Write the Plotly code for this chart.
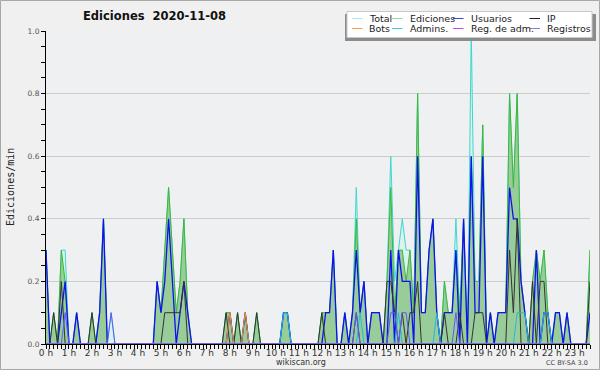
import plotly.graph_objects as go

# 10-minute bins of 2020-11-08, 00:00 .. 23:40 (hours)
hours = [i / 6 for i in range(143)]

# values in edits/min, one row = 2 hours (12 bins)
total = [
    0.3, 0, 0.1, 0, 0.3, 0.3, 0, 0, 0.1, 0, 0, 0,
    0.1, 0, 0.1, 0.4, 0, 0.1, 0, 0, 0, 0, 0, 0,
    0, 0, 0, 0, 0, 0.2, 0.1, 0.3, 0.5, 0.3, 0.1, 0.2,
    0.4, 0.1, 0, 0, 0, 0, 0, 0, 0, 0, 0, 0.1,
    0.1, 0, 0.1, 0, 0.1, 0, 0, 0.1, 0, 0, 0, 0,
    0, 0, 0.1, 0.1, 0, 0, 0, 0, 0, 0, 0, 0,
    0.1, 0.1, 0.1, 0.3, 0, 0, 0.1, 0, 0.1, 0.5, 0.1, 0.2,
    0, 0.1, 0.1, 0.1, 0, 0.2, 0.6, 0.2, 0.3, 0.4, 0.3, 0.3,
    0.1, 0.8, 0.1, 0.1, 0.3, 0.4, 0.1, 0, 0.2, 0.1, 0.1, 0.4,
    0.1, 0.4, 0, 1.0, 0.2, 0.2, 0.7, 0, 0.1, 0, 0.1, 0.1,
    0.1, 0.8, 0.5, 0.8, 0.2, 0.1, 0, 0.2, 0.3, 0.2, 0.3, 0.1,
    0, 0.1, 0.1, 0, 0.1, 0, 0, 0, 0, 0, 0.3,
]
ediciones = [
    0.3, 0, 0.1, 0, 0.3, 0.2, 0, 0, 0.1, 0, 0, 0,
    0.1, 0, 0.1, 0.4, 0, 0, 0, 0, 0, 0, 0, 0,
    0, 0, 0, 0, 0, 0.2, 0.1, 0.3, 0.5, 0.3, 0.1, 0.2,
    0.4, 0.1, 0, 0, 0, 0, 0, 0, 0, 0, 0, 0.1,
    0.1, 0, 0.1, 0, 0.1, 0, 0, 0.1, 0, 0, 0, 0,
    0, 0, 0.1, 0.1, 0, 0, 0, 0, 0, 0, 0, 0,
    0.1, 0.1, 0.1, 0.3, 0, 0, 0.1, 0, 0.1, 0.4, 0.1, 0.2,
    0, 0.1, 0.1, 0.1, 0, 0.2, 0.5, 0.1, 0.3, 0.3, 0.2, 0.3,
    0.1, 0.8, 0.1, 0.1, 0.3, 0.4, 0.1, 0, 0.2, 0.1, 0.1, 0.3,
    0.1, 0.4, 0, 0.6, 0.2, 0.2, 0.7, 0, 0.1, 0, 0.1, 0.1,
    0.1, 0.8, 0.5, 0.8, 0.2, 0.1, 0, 0.2, 0.3, 0.2, 0.3, 0.1,
    0, 0.1, 0.1, 0, 0.1, 0, 0, 0, 0, 0, 0.3,
]
usuarios = [
    0.3, 0, 0, 0, 0.1, 0.2, 0, 0, 0.1, 0, 0, 0,
    0, 0, 0.1, 0.4, 0, 0, 0, 0, 0, 0, 0, 0,
    0, 0, 0, 0, 0, 0.2, 0.1, 0.2, 0.4, 0.2, 0, 0.1,
    0.2, 0.1, 0, 0, 0, 0, 0, 0, 0, 0, 0, 0,
    0.1, 0, 0, 0, 0.1, 0, 0, 0, 0, 0, 0, 0,
    0, 0, 0.1, 0.1, 0, 0, 0, 0, 0, 0, 0, 0,
    0, 0.1, 0.1, 0.3, 0, 0, 0.1, 0, 0.1, 0.3, 0.1, 0.2,
    0, 0.1, 0.1, 0.1, 0, 0, 0.3, 0, 0.3, 0.2, 0.2, 0.2,
    0, 0.6, 0.1, 0.1, 0.3, 0.4, 0.1, 0, 0.1, 0.1, 0.1, 0.3,
    0, 0.4, 0, 0.6, 0.1, 0.1, 0.6, 0, 0.1, 0, 0.1, 0.1,
    0.1, 0.5, 0.4, 0.4, 0.2, 0.1, 0, 0, 0.3, 0, 0.1, 0.1,
    0, 0.1, 0.1, 0, 0.1, 0, 0, 0, 0, 0, 0.1,
]
ip = [
    0, 0, 0.1, 0, 0.2, 0, 0, 0, 0, 0, 0, 0,
    0.1, 0, 0, 0, 0, 0, 0, 0, 0, 0, 0, 0,
    0, 0, 0, 0, 0, 0, 0, 0.1, 0.1, 0.1, 0.1, 0.1,
    0.2, 0, 0, 0, 0, 0, 0, 0, 0, 0, 0, 0.1,
    0, 0, 0.1, 0, 0, 0, 0, 0.1, 0, 0, 0, 0,
    0, 0, 0, 0, 0, 0, 0, 0, 0, 0, 0, 0,
    0.1, 0, 0, 0, 0, 0, 0, 0, 0, 0.1, 0, 0,
    0, 0, 0, 0, 0, 0.2, 0.2, 0.1, 0, 0.1, 0, 0.1,
    0.1, 0.2, 0, 0, 0, 0, 0, 0, 0.1, 0, 0, 0,
    0.1, 0, 0, 0, 0.1, 0.1, 0.1, 0, 0, 0, 0, 0,
    0, 0.3, 0.1, 0.4, 0, 0, 0, 0.2, 0, 0.2, 0.2, 0,
    0, 0, 0, 0, 0, 0, 0, 0, 0, 0, 0.2,
]
bots = [
    0, 0, 0, 0, 0, 0, 0, 0, 0, 0, 0, 0,
    0, 0, 0, 0, 0, 0, 0, 0, 0, 0, 0, 0,
    0, 0, 0, 0, 0, 0, 0, 0, 0, 0, 0, 0,
    0, 0, 0, 0, 0, 0, 0, 0, 0, 0, 0, 0,
    0.1, 0, 0, 0, 0.1, 0, 0, 0, 0, 0, 0, 0,
    0, 0, 0, 0, 0, 0, 0, 0, 0, 0, 0, 0,
    0, 0, 0, 0, 0, 0, 0, 0, 0, 0, 0, 0,
    0, 0, 0, 0, 0, 0, 0, 0, 0, 0, 0, 0,
    0, 0, 0, 0, 0, 0, 0, 0, 0, 0, 0, 0,
    0, 0, 0, 0, 0, 0, 0, 0, 0, 0, 0, 0,
    0, 0, 0, 0, 0, 0, 0, 0, 0, 0, 0, 0,
    0, 0, 0, 0, 0, 0, 0, 0, 0, 0, 0,
]
admins = [
    0, 0, 0, 0, 0, 0, 0, 0, 0, 0, 0, 0,
    0, 0, 0, 0, 0, 0, 0, 0, 0, 0, 0, 0,
    0, 0, 0, 0, 0, 0, 0, 0, 0, 0, 0, 0,
    0, 0, 0, 0, 0, 0, 0, 0, 0, 0, 0, 0,
    0, 0, 0, 0, 0, 0, 0, 0, 0, 0, 0, 0,
    0, 0, 0.1, 0.1, 0, 0, 0, 0, 0, 0, 0, 0,
    0, 0, 0, 0, 0, 0, 0, 0, 0, 0, 0.1, 0,
    0, 0, 0, 0, 0, 0, 0, 0, 0.1, 0, 0, 0,
    0, 0, 0, 0, 0, 0, 0.1, 0, 0, 0, 0, 0,
    0, 0, 0, 0, 0, 0, 0, 0, 0, 0, 0, 0,
    0, 0, 0, 0.1, 0.1, 0.1, 0, 0, 0, 0, 0.1, 0.1,
    0, 0, 0, 0, 0, 0, 0, 0, 0, 0, 0,
]
reg_adm = [0] * 143
registros = [
    0, 0, 0, 0, 0, 0.1, 0, 0, 0, 0, 0, 0,
    0, 0, 0, 0, 0, 0.1, 0, 0, 0, 0, 0, 0,
    0, 0, 0, 0, 0, 0, 0, 0, 0, 0, 0, 0,
    0, 0, 0, 0, 0, 0, 0, 0, 0, 0, 0, 0,
    0, 0, 0, 0, 0, 0, 0, 0, 0, 0, 0, 0,
    0, 0, 0, 0, 0, 0, 0, 0, 0, 0, 0, 0,
    0, 0, 0, 0, 0, 0, 0, 0, 0, 0.1, 0, 0,
    0, 0, 0, 0, 0, 0, 0.1, 0.1, 0, 0.1, 0.1, 0,
    0, 0, 0, 0, 0, 0, 0, 0, 0, 0, 0, 0.1,
    0, 0, 0, 0, 0, 0, 0, 0, 0, 0, 0, 0,
    0, 0, 0, 0, 0, 0, 0, 0, 0, 0, 0, 0,
    0, 0, 0, 0, 0, 0, 0, 0, 0, 0, 0,
]

series = [
    # name, values, line colour, legend colour, width, fill
    ("Total", total, "#3fd6cf", "#aee8e6", 1.0, "#dcf2ef"),
    ("Ediciones", ediciones, "#3cb83c", "#9ad89a", 1.0, "#98cc98"),
    ("Usuarios", usuarios, "#1010f0", "#4444dd", 1.3, None),
    ("IP", ip, "#333333", "#222222", 1.0, None),
    ("Bots", bots, "#ff9a1a", "#ffa040", 1.0, None),
    ("Admins.", admins, "#22bbdd", "#44c8e0", 1.0, None),
    ("Reg. de adm.", reg_adm, "#cc44dd", "#c050e0", 1.0, None),
    ("Registros", registros, "#5a5aff", "#8080f0", 1.0, None),
]
for _, v, *_r in series:
    assert len(v) == 143

fig = go.Figure()
for name, vals, col, _lc, w, fc in series:
    fig.add_trace(go.Scatter(
        x=hours, y=vals, name=name, mode="lines",
        line=dict(color=col, width=w),
        fill="tozeroy" if fc else None, fillcolor=fc,
        hoverinfo="skip", showlegend=False,
    ))

L, R, T, B = 46, 590, 31, 344
W, H = R - L, B - T


def px(x):
    return (x - L) / W


def py(y):
    return (B - y) / H


fig.update_layout(
    width=600, height=370,
    margin=dict(l=L, r=600 - R, t=T, b=370 - B, pad=0),
    paper_bgcolor="#f0f0f0", plot_bgcolor="#eef0f2",
    showlegend=False,
    font=dict(family="DejaVu Sans", color="#333"),
)
fig.update_xaxes(
    range=[0, 142 / 6], tick0=0, dtick=1, ticksuffix=" h",
    ticks="outside", ticklen=4, tickcolor="black", tickwidth=1,
    ticklabelstandoff=-4,
    showline=True, linecolor="black", linewidth=1,
    showgrid=False, zeroline=False,
    tickfont=dict(family="DejaVu Sans", size=9, color="#333"),
    minor=dict(tick0=0, dtick=1 / 6, ticks="outside", ticklen=4,
               tickcolor="black", tickwidth=1, showgrid=False),
)
fig.update_yaxes(
    range=[0, 1.0], tick0=0, dtick=0.2, tickformat=".1f",
    ticks="outside", ticklen=4, tickcolor="black", tickwidth=1,
    showline=True, linecolor="black", linewidth=1,
    showgrid=True, gridcolor="#cccccc", gridwidth=1, zeroline=False,
    tickfont=dict(family="DejaVu Sans", size=7.5, color="#555"),
    minor=dict(tick0=0, dtick=0.05, ticks="outside", ticklen=4,
               tickcolor="black", tickwidth=1, showgrid=False),
)

shapes = []
ann = []
# outer border
shapes.append(dict(type="rect", xref="paper", yref="paper",
                   x0=px(0.5), x1=px(599.5), y0=py(369.5), y1=py(0.5),
                   line=dict(color="#a8a8a8", width=1), fillcolor="rgba(0,0,0,0)", layer="above"))
# legend box with shadow
shapes.append(dict(type="rect", xref="paper", yref="paper",
                   x0=px(345), x1=px(596), y0=py(41), y1=py(14),
                   line=dict(width=0), fillcolor="#8c8c8c", layer="above"))
shapes.append(dict(type="rect", xref="paper", yref="paper",
                   x0=px(347), x1=px(592), y0=py(37.5), y1=py(11.5),
                   line=dict(color="#c8c8c8", width=1), fillcolor="white", layer="above"))
cols = [(352, 366.5), (392, 408), (453, 469), (529.5, 545)]
rows = [18.5, 28.5]
for k, (name, _v, _c, lc, _w, _f) in enumerate(series):
    r, c = divmod(k, 4)
    lx, tx = cols[c]
    yy = rows[r]
    shapes.append(dict(type="line", xref="paper", yref="paper",
                       x0=px(lx), x1=px(lx + 10.5), y0=py(yy), y1=py(yy),
                       line=dict(color=lc, width=1), layer="above"))
    ann.append(dict(xref="paper", yref="paper", x=px(tx), y=py(yy),
                    text=name, showarrow=False, xanchor="left", yanchor="middle",
                    font=dict(family="DejaVu Sans", size=9.5, color="#222")))

ann.append(dict(xref="paper", yref="paper", x=px(154), y=py(16),
                text="<b>Ediciones\u00a0\u00a02020-11-08</b>", showarrow=False,
                xanchor="center", yanchor="middle",
                font=dict(family="DejaVu Sans", size=11.5, color="#111")))
ann.append(dict(xref="paper", yref="paper", x=px(10), y=py(187),
                text="Ediciones/min", showarrow=False, textangle=-90,
                xanchor="center", yanchor="middle",
                font=dict(family="DejaVu Sans Mono", size=10, color="#222")))
ann.append(dict(xref="paper", yref="paper", x=px(300.5), y=py(362),
                text="wikiscan.org", showarrow=False,
                xanchor="center", yanchor="middle",
                font=dict(family="DejaVu Sans", size=8, color="#333")))
ann.append(dict(xref="paper", yref="paper", x=px(590), y=py(363),
                text="CC BY-SA 3.0", showarrow=False,
                xanchor="right", yanchor="middle",
                font=dict(family="DejaVu Sans", size=6.5, color="#444")))

fig.update_layout(shapes=shapes, annotations=ann)
fig.write_html(
    "out.html",
    config={"displayModeBar": False},
    post_script="document.body.style.margin='0';document.body.style.padding='0';",
)
